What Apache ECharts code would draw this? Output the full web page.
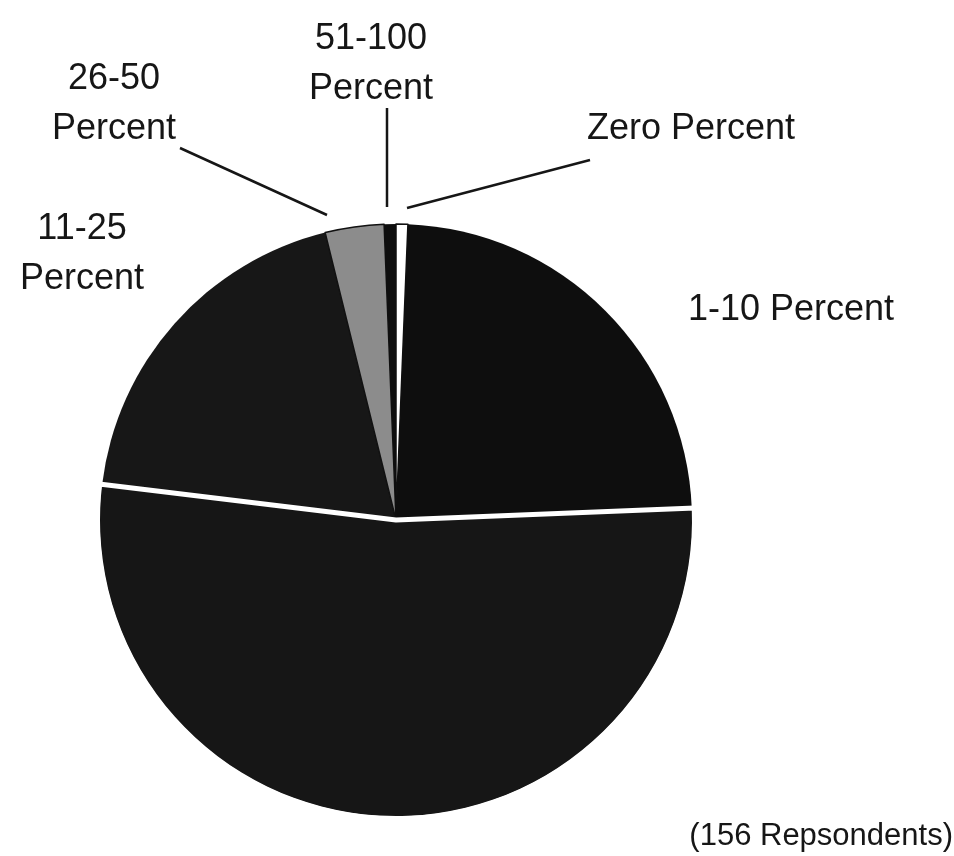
<!DOCTYPE html>
<html>
<head>
<meta charset="utf-8">
<script src="https://cdn.jsdelivr.net/npm/echarts@6/dist/echarts.min.js"></script>
<style>
html,body{margin:0;padding:0;background:#ffffff;}
#chart{width:954px;height:856px;}
</style>
</head>
<body>
<div id="chart"></div>
<script>
// ---- data (156 respondents in total) ----
const categories = ['Zero Percent', '1-10 Percent', '(unlabeled)', '11-25 Percent', '26-50 Percent', '51-100 Percent'];
const labelTexts = ['Zero Percent', '1-10 Percent', '', '11-25\nPercent', '26-50\nPercent', '51-100\nPercent'];
const respondents = [1, 37, 82, 30, 5, 1];
const noteText = '(156 Repsondents)';

// ---- styles / layout (kept apart from the data) ----
const sliceColors = ['#ffffff', '#0e0e0e', '#161616', '#171717', '#8c8c8c', '#0e0e0e'];
const FONT = '"Liberation Sans", Arial, Helvetica, sans-serif';
const CX = 396, CY = 520, R = 296;
// label centre positions and leader segments (pixel layout)
const labelLayoutCfg = [
  { x: 691, y: 129, line: [[407, 208], [590, 160]] },
  { x: 791, y: 310, line: null },
  null,
  { x: 82, y: 254, line: null },
  { x: 114, y: 104, line: [[327, 215], [180, 148]] },
  { x: 371, y: 64, line: [[387, 207], [387, 108]] }
];

const mainData = categories.map((name, i) => {
  const item = {
    name: name,
    value: respondents[i],
    itemStyle: { color: sliceColors[i] },
    label: { show: labelTexts[i] !== '' },
    labelLine: { show: !!(labelLayoutCfg[i] && labelLayoutCfg[i].line) }
  };
  if (i === 0 || i === 4) {
    item.itemStyle.borderColor = '#111111';
    item.itemStyle.borderWidth = 1.5;
  }
  return item;
});

const overlayData = categories.map((name, i) => ({
  name: name,
  value: respondents[i],
  itemStyle: i === 2
    ? { color: 'rgba(0,0,0,0)', borderColor: '#ffffff', borderWidth: 5 }
    : { color: 'rgba(0,0,0,0)', borderWidth: 0 }
}));

const chart = echarts.init(document.getElementById('chart'), null, { renderer: 'canvas' });
chart.setOption({
  animation: false,
  backgroundColor: '#ffffff',
  series: [
    {
      type: 'pie',
      center: [CX, CY],
      radius: [0, R],
      startAngle: 90,
      clockwise: true,
      avoidLabelOverlap: false,
      silent: true,
      data: mainData,
      label: {
        show: true,
        position: 'outside',
        formatter: p => labelTexts[p.dataIndex],
        fontFamily: FONT,
        fontSize: 36,
        lineHeight: 50,
        color: '#161616',
        align: 'center'
      },
      labelLine: {
        show: true,
        lineStyle: { color: '#161616', width: 2.5 }
      },
      labelLayout: function (params) {
        const cfg = labelLayoutCfg[params.dataIndex];
        if (!cfg) return {};
        const out = { x: cfg.x, y: cfg.y, align: 'center', verticalAlign: 'middle', hideOverlap: false, moveOverlap: false };
        if (cfg.line) {
          const a = cfg.line[0], b = cfg.line[1];
          out.labelLinePoints = [a, [(a[0] + b[0]) / 2, (a[1] + b[1]) / 2], b];
        }
        return out;
      }
    },
    {
      type: 'pie',
      center: [CX, CY],
      radius: [0, R + 3],
      startAngle: 90,
      clockwise: true,
      silent: true,
      label: { show: false },
      labelLine: { show: false },
      data: overlayData
    }
  ],
  graphic: [
    {
      type: 'text',
      right: 1,
      top: 821,
      style: {
        text: noteText,
        fontFamily: FONT,
        fontSize: 31,
        fill: '#161616'
      }
    }
  ]
});
</script>
</body>
</html>
